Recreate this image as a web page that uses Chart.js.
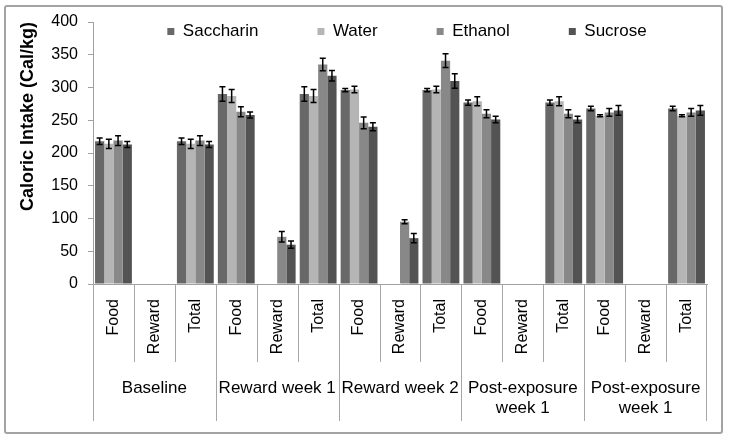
<!DOCTYPE html>
<html>
<head>
<meta charset="utf-8">
<script src="https://cdn.jsdelivr.net/npm/chart.js@4.4.1/dist/chart.umd.min.js"></script>
<style>
  html, body { margin: 0; padding: 0; background: #fff; }
  #wrap { position: relative; width: 729px; height: 439px; }
  #frame { position: absolute; left: 4px; top: 5px; width: 719px; height: 429px; box-sizing: border-box; border: 2px solid #a3a3a3; border-radius: 3px; }
  #chart { position: absolute; left: 0; top: 0; }
</style>
</head>
<body>
<div id="wrap">
  <div id="frame"></div>
  <canvas id="chart" width="729" height="439"></canvas>
</div>
<script>
var categories = ["Food", "Reward", "Total", "Food", "Reward", "Total", "Food", "Reward", "Total",
                  "Food", "Reward", "Total", "Food", "Reward", "Total"];
var groups = ["Baseline", "Reward week 1", "Reward week 2", ["Post-exposure", "week 1"], ["Post-exposure", "week 1"]];

var saccharin = [218, null, 218, 290, null, 290, 296, null, 296, 277, null, 277, 268, null, 268];
var water     = [214, null, 214, 287, null, 287, 297, null, 297, 279, null, 279, 257, null, 257];
var ethanol   = [219, null, 219, 263, 72, 335, 246, 95, 341, 260, null, 260, 262, null, 262];
var sucrose   = [213, null, 213, 258, 60, 318, 240, 70, 310, 251, null, 251, 265, null, 265];

var saccharinErr = [5, null, 5, 11, null, 11, 2.5, null, 2.5, 4, null, 4, 3.5, null, 3.5];
var waterErr     = [7, null, 7, 10, null, 10, 5, null, 5, 7, null, 7, 1.5, null, 1.5];
var ethanolErr   = [7.5, null, 7.5, 7.5, 8, 9.5, 9, 3, 10.5, 6, null, 6, 6, null, 6];
var sucroseErr   = [4.5, null, 4.5, 4.5, 5.5, 8, 6, 7, 11, 5, null, 5, 7.5, null, 7.5];

var yTicks = [0, 50, 100, 150, 200, 250, 300, 350, 400];

var FONT = "'Liberation Sans', Arial, sans-serif";
var errs = [saccharinErr, waterErr, ethanolErr, sucroseErr];

// legend sits over the plot, error bars, category separators, two-level axis labels
var extras = {
  id: "extras",
  beforeInit: function(chart) {
    var lg = chart.legend;
    var fit = lg.fit;
    lg.fit = function() { fit.call(this); this.height = 0; };
  },
  beforeDraw: function(chart) {
    var a = chart.chartArea;
    var lg = chart.legend;
    lg.top = -36;
    lg.bottom = 50;
    lg.left = a.left + 7;
    lg.right = a.right + 7;
  },
  afterDatasetsDraw: function(chart) {
    var ctx = chart.ctx, y = chart.scales.y;
    ctx.save();
    ctx.strokeStyle = "#000";
    ctx.lineWidth = 1.5;
    chart.data.datasets.forEach(function(ds, i) {
      var meta = chart.getDatasetMeta(i);
      ds.data.forEach(function(v, j) {
        if (v == null) return;
        var e = errs[i][j];
        var x = meta.data[j].x;
        var t = y.getPixelForValue(v + e), b = y.getPixelForValue(v - e);
        ctx.beginPath();
        ctx.moveTo(x, t); ctx.lineTo(x, b);
        ctx.moveTo(x - 3, t); ctx.lineTo(x + 3, t);
        ctx.moveTo(x - 3, b); ctx.lineTo(x + 3, b);
        ctx.stroke();
      });
    });
    ctx.restore();
  },
  afterDraw: function(chart) {
    var ctx = chart.ctx, x = chart.scales.x, a = chart.chartArea;
    var half = (x.getPixelForValue(1) - x.getPixelForValue(0)) / 2;
    ctx.save();
    ctx.strokeStyle = "#a6a6a6";
    ctx.lineWidth = 1;
    for (var i = 0; i <= categories.length; i++) {
      var px = Math.round(x.getPixelForValue(i) - half) + 0.5;
      if (i === categories.length) px = Math.round(a.right) - 0.5;
      var bottom = (i % 3 === 0) ? 421 : 362;
      ctx.beginPath();
      ctx.moveTo(px, a.bottom);
      ctx.lineTo(px, bottom);
      ctx.stroke();
    }
    ctx.fillStyle = "#000";
    ctx.font = "17px " + FONT;
    ctx.textAlign = "center";
    ctx.textBaseline = "middle";
    groups.forEach(function(g, k) {
      var cx = (x.getPixelForValue(3 * k) + x.getPixelForValue(3 * k + 2)) / 2;
      var lines = Array.isArray(g) ? g : [g];
      lines.forEach(function(t, n) {
        ctx.fillText(t, cx, 388 + n * 20);
      });
    });
    ctx.restore();
  }
};

new Chart(document.getElementById("chart"), {
  type: "bar",
  data: {
    labels: categories,
    datasets: [
      { label: "Saccharin", data: saccharin, backgroundColor: "#686868" },
      { label: "Water", data: water, backgroundColor: "#b5b5b5" },
      { label: "Ethanol", data: ethanol, backgroundColor: "#888888" },
      { label: "Sucrose", data: sucrose, backgroundColor: "#535353" }
    ]
  },
  options: {
    responsive: false,
    animation: false,
    layout: { padding: { left: 0, right: 22, top: 22, bottom: 0 } },
    datasets: { bar: { categoryPercentage: 0.9, barPercentage: 1.0 } },
    plugins: {
      legend: {
        position: "top",
        labels: {
          boxWidth: 7, boxHeight: 7, padding: 59,
          color: "#000",
          font: { family: FONT, size: 17 }
        }
      },
      tooltip: { enabled: false }
    },
    scales: {
      x: {
        grid: { drawOnChartArea: false, drawTicks: false },
        border: { color: "#a0a0a0" },
        ticks: {
          autoSkip: false, minRotation: 90, maxRotation: 90, padding: 15,
          color: "#000", font: { family: FONT, size: 16 }
        },
        afterFit: function(s) { s.height = 155; }
      },
      y: {
        min: 0, max: 400,
        afterBuildTicks: function(s) { s.ticks = yTicks.map(function(v) { return { value: v }; }); },
        grid: { drawOnChartArea: false, tickLength: 5, color: "#a0a0a0" },
        border: { color: "#a0a0a0" },
        ticks: { padding: 10, color: "#000", font: { family: FONT, size: 16 } },
        title: {
          display: true, text: "Caloric Intake (Cal/kg)", align: "end",
          color: "#000", font: { family: FONT, size: 18, weight: "bold" },
          padding: { top: 17, bottom: 0 }
        },
        afterFit: function(s) { s.width = 93; }
      }
    }
  },
  plugins: [extras]
});
</script>
</body>
</html>
